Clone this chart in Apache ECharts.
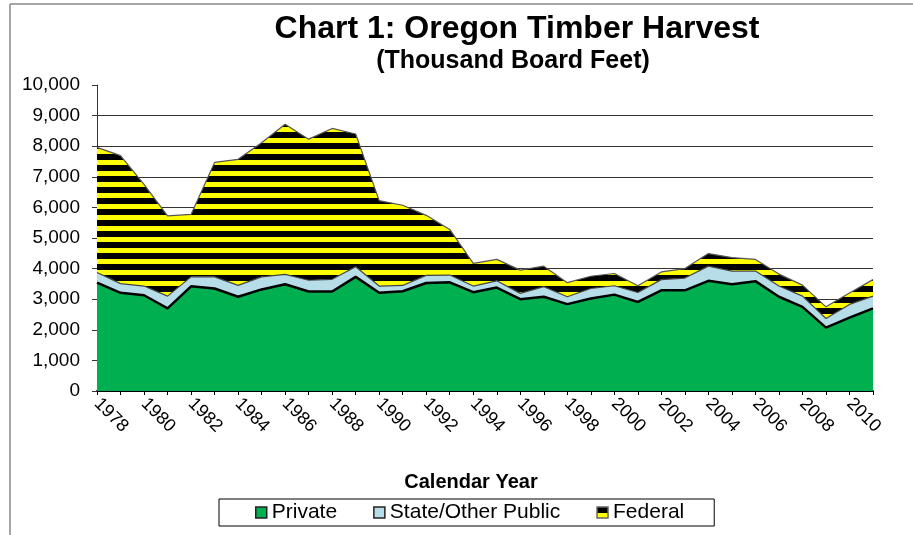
<!DOCTYPE html>
<html>
<head>
<meta charset="utf-8">
<title>Chart 1: Oregon Timber Harvest</title>
<script src="https://cdn.jsdelivr.net/npm/echarts@6/dist/echarts.min.js"></script>
<style>
  html, body { margin: 0; padding: 0; background: #fff; }
  #main { width: 913px; height: 535px; }
</style>
</head>
<body>
<div id="main"></div>
<script>
// years on the category axis (labels shown every other year)
const years = ['1978', '1979', '1980', '1981', '1982', '1983', '1984', '1985', '1986', '1987',
  '1988', '1989', '1990', '1991', '1992', '1993', '1994', '1995', '1996', '1997',
  '1998', '1999', '2000', '2001', '2002', '2003', '2004', '2005', '2006', '2007',
  '2008', '2009', '2010', '2011']

// harvest by owner (stacked)
const privateVals = [3540, 3210, 3130, 2700, 3420, 3350, 3080, 3320, 3490, 3250,
  3250, 3730, 3210, 3260, 3530, 3550, 3230, 3380, 3000, 3080,
  2840, 3020, 3150, 2910, 3290, 3290, 3600, 3490, 3590, 3080,
  2750, 2070, 2400, 2700]
const stateVals = [330, 300, 300, 400, 310, 380, 370, 410, 320, 370,
  400, 330, 220, 190, 250, 240, 200, 220, 190, 330,
  240, 330, 290, 310, 350, 400, 480, 430, 330, 350,
  350, 300, 430, 400]
const federalVals = [4090, 4180, 3320, 2620, 2040, 3740, 4120, 4380, 4910, 4610,
  4930, 4340, 2790, 2620, 1960, 1490, 740, 700, 760, 670,
  460, 400, 400, 220, 250, 310, 410, 440, 380, 390,
  360, 380, 370, 540]

// value axis
const yMax = 10000
const yStep = 1000

const font = 'Liberation Sans, Arial, Helvetica, sans-serif'

// black / yellow horizontal stripes for the federal area
const stripe = document.createElement('canvas')
stripe.width = 8
stripe.height = 11
const sctx = stripe.getContext('2d')
sctx.fillStyle = '#ffff00'
sctx.fillRect(0, 0, 8, 11)
sctx.fillStyle = '#000000'
sctx.fillRect(0, 0, 8, 6)
const stripes = { image: stripe, repeat: 'repeat' }

const myChart = echarts.init(document.getElementById('main'))

const option = {
  backgroundColor: '#fff',
  animation: false,
  textStyle: { fontFamily: font },
  grid: {
    left: 97,
    right: 40,
    top: 85,
    bottom: 144
  },
  legend: {
    left: 219,
    top: 499,
    padding: [3, 30, 3, 36],
    itemGap: 36,
    itemWidth: 11,
    itemHeight: 11,
    icon: 'rect',
    borderColor: '#000',
    borderWidth: 1,
    textStyle: { fontSize: 21, color: '#000', fontFamily: font },
    data: [
      { name: 'Private', itemStyle: { color: '#00b050', borderColor: '#222', borderWidth: 1.5 } },
      { name: 'State/Other Public', itemStyle: { color: '#b7dde8', borderColor: '#222', borderWidth: 1.5 } },
      { name: 'Federal', itemStyle: { color: stripes, borderColor: '#666', borderWidth: 1.5 } }
    ]
  },
  xAxis: {
    type: 'category',
    data: years,
    boundaryGap: false,
    axisLine: { lineStyle: { color: '#000', width: 2 } },
    axisTick: { interval: 0, length: 4, lineStyle: { color: '#000' } },
    axisLabel: {
      interval: 1,
      rotate: -45,
      margin: 10,
      fontSize: 18,
      color: '#000',
      fontFamily: font
    }
  },
  yAxis: {
    type: 'value',
    min: 0,
    max: yMax,
    interval: yStep,
    axisLine: { show: true, lineStyle: { color: '#333', width: 1 } },
    axisTick: { show: true, length: 5, lineStyle: { color: '#333' } },
    axisLabel: {
      margin: 17,
      fontSize: 19,
      color: '#000',
      fontFamily: font,
      formatter: function (v) { return v.toLocaleString('en-US') }
    },
    splitLine: { show: true, showMaxLine: false, lineStyle: { color: '#333', width: 1 } }
  },
  series: [
    {
      name: 'Private',
      type: 'line',
      stack: 'total',
      data: privateVals,
      symbol: 'none',
      z: 4,
      lineStyle: { color: '#000', width: 2.5 },
      areaStyle: { color: '#00b050', opacity: 1 }
    },
    {
      name: 'State/Other Public',
      type: 'line',
      stack: 'total',
      data: stateVals,
      symbol: 'none',
      z: 3,
      lineStyle: { color: '#444', width: 1.2 },
      areaStyle: { color: '#b7dde8', opacity: 1 }
    },
    {
      name: 'Federal',
      type: 'line',
      stack: 'total',
      data: federalVals,
      symbol: 'none',
      z: 2,
      lineStyle: { color: '#555', width: 1.2 },
      areaStyle: { color: stripes, opacity: 1 }
    }
  ],
  graphic: [
    { type: 'line', shape: { x1: 10, y1: 4, x2: 913, y2: 4 }, style: { stroke: '#888', lineWidth: 1.5 } },
    { type: 'line', shape: { x1: 10, y1: 4, x2: 10, y2: 535 }, style: { stroke: '#888', lineWidth: 1.5 } },
    {
      type: 'text',
      x: 517,
      y: 29,
      style: {
        text: 'Chart 1: Oregon Timber Harvest',
        fontSize: 32,
        fontWeight: 'bold',
        fontFamily: font,
        fill: '#000',
        align: 'center',
        verticalAlign: 'middle'
      }
    },
    {
      type: 'text',
      x: 513,
      y: 61,
      style: {
        text: '(Thousand Board Feet)',
        fontSize: 25,
        fontWeight: 'bold',
        fontFamily: font,
        fill: '#000',
        align: 'center',
        verticalAlign: 'middle'
      }
    },
    {
      type: 'text',
      x: 471,
      y: 482,
      style: {
        text: 'Calendar Year',
        fontSize: 20,
        fontWeight: 'bold',
        fontFamily: font,
        fill: '#000',
        align: 'center',
        verticalAlign: 'middle'
      }
    }
  ]
}

myChart.setOption(option)
</script>
</body>
</html>
